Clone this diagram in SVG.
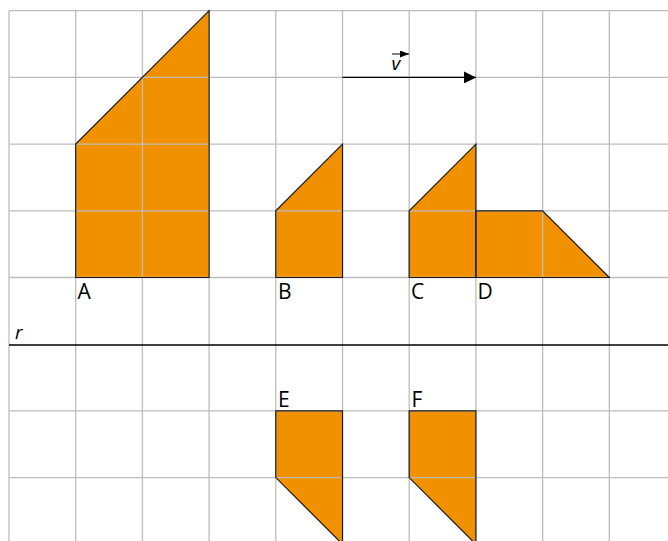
<svg xmlns="http://www.w3.org/2000/svg" width="668" height="541" viewBox="0 0 668 541">
<style>
.shape{fill:#f29100;stroke:none}
.outline{fill:none;stroke:#1a1a1a;stroke-width:1.2;stroke-linejoin:miter}
.grid{stroke:#bdbdbd;stroke-width:1.3;fill:none}
.lbl{font-family:"Open Sans","Noto Sans","Liberation Sans",sans-serif;font-size:21px;fill:#000}
.it{font-style:italic;font-size:19px}
</style>
<defs>
<marker id="ah" markerWidth="12" markerHeight="12" refX="12" refY="6" orient="auto" markerUnits="userSpaceOnUse">
<path d="M0,0 L12,6 L0,12 Z" fill="#000"/>
</marker>
<marker id="ahs" markerWidth="9" markerHeight="7" refX="9" refY="3.5" orient="auto" markerUnits="userSpaceOnUse">
<path d="M0,0 L9,3.5 L0,7 Z" fill="#000"/>
</marker>
</defs>
<rect width="668" height="541" fill="#fff"/>
<g id="fills">
<polygon class="shape" points="75.7,277.5 75.7,144.1 209.1,10.7 209.1,277.5"/>
<polygon class="shape" points="275.8,277.5 275.8,210.8 342.5,144.1 342.5,277.5"/>
<polygon class="shape" points="409.2,277.5 409.2,210.8 475.9,144.1 475.9,277.5"/>
<polygon class="shape" points="475.9,277.5 475.9,210.8 542.6,210.8 609.3,277.5"/>
<polygon class="shape" points="275.8,410.9 342.5,410.9 342.5,544.3 275.8,477.6"/>
<polygon class="shape" points="409.2,410.9 475.9,410.9 475.9,544.3 409.2,477.6"/>
</g>
<g id="grid" class="grid">
<path d="M9,10.7V541 M75.7,10.7V541 M142.4,10.7V541 M209.1,10.7V541 M275.8,10.7V541 M342.5,10.7V541 M409.2,10.7V541 M475.9,10.7V541 M542.6,10.7V541 M609.3,10.7V541"/>
<path d="M9,10.7H668 M9,77.4H668 M9,144.1H668 M9,210.8H668 M9,277.5H668 M9,410.9H668 M9,477.6H668"/>
</g>
<g id="A"><polygon class="outline" points="75.7,277.5 75.7,144.1 209.1,10.7 209.1,277.5"/><text class="lbl" x="77.5" y="299">A</text></g>
<g id="B"><polygon class="outline" points="275.8,277.5 275.8,210.8 342.5,144.1 342.5,277.5"/><text class="lbl" x="278" y="299">B</text></g>
<g id="C"><polygon class="outline" points="409.2,277.5 409.2,210.8 475.9,144.1 475.9,277.5"/><text class="lbl" x="411" y="299">C</text></g>
<g id="D"><polygon class="outline" points="475.9,277.5 475.9,210.8 542.6,210.8 609.3,277.5"/><text class="lbl" x="477.5" y="299">D</text></g>
<g id="E"><polygon class="outline" points="275.8,410.9 342.5,410.9 342.5,544.3 275.8,477.6"/><text class="lbl" x="278" y="407">E</text></g>
<g id="F"><polygon class="outline" points="409.2,410.9 475.9,410.9 475.9,544.3 409.2,477.6"/><text class="lbl" x="411.5" y="407">F</text></g>
<g id="connectors">
<line x1="9" y1="345" x2="668" y2="345" stroke="#000" stroke-width="1.3"/>
<line x1="342.5" y1="77.4" x2="476" y2="77.4" stroke="#000" stroke-width="1.3" marker-end="url(#ah)"/>
<line x1="392" y1="54" x2="409" y2="54" stroke="#000" stroke-width="1" marker-end="url(#ahs)"/>
</g>
<text class="lbl it" x="15" y="339">r</text>
<text class="lbl it" x="391.5" y="70">v</text>
</svg>
